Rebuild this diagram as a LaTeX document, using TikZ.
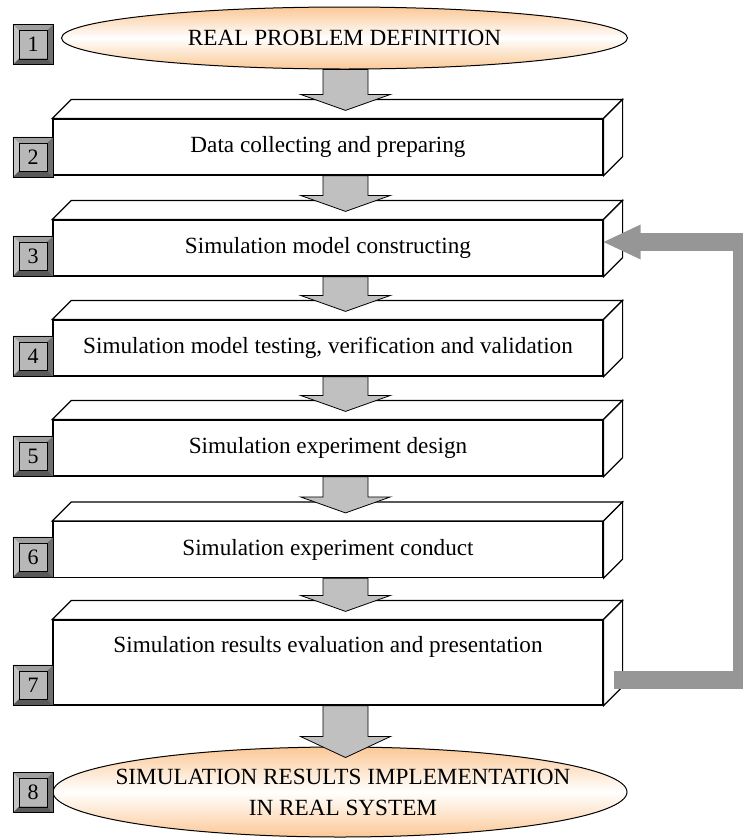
\documentclass[tikz,border=0pt]{standalone}
\usepackage{fontspec}
\setmainfont{Liberation Serif}
\usetikzlibrary{shapes.geometric,calc}
\definecolor{ellor}{HTML}{FBC896}
\definecolor{arrgray}{HTML}{C0C0C0}
\definecolor{fbgray}{HTML}{969696}
\definecolor{nbface}{HTML}{B8B8B8}
\definecolor{nbtop}{HTML}{A0A0A0}
\definecolor{nbleft}{HTML}{C4C4C4}
\definecolor{nbright}{HTML}{6E6E6E}
\definecolor{nbbot}{HTML}{5A5A5A}
\tikzset{
  txt/.style={font=\fontsize{23.2}{31}\selectfont},
  oval/.style={ellipse, draw, line width=1pt, top color=ellor, bottom color=ellor, middle color=white, inner sep=0pt},
  boxf/.style={rectangle, draw, line width=1.2pt, fill=white, minimum width=550pt, minimum height=56pt, inner sep=0pt, txt},
  faceline/.style={draw, line width=1.2pt, fill=white, line join=miter},
  numbox/.style={rectangle, fill=nbface, minimum size=40pt, inner sep=0pt, font=\fontsize{22}{22}\selectfont},
  blockarr/.style={draw, fill=arrgray, line width=0.8pt, line join=miter},
  plain/.style={inner sep=0pt, align=center, txt}
}
\newcommand\cubefaces[1]{%
  \filldraw[faceline] (#1.north west) -- ++(19,-19) -- ($(#1.north east)+(19,-19)$) -- (#1.north east) -- cycle;
  \filldraw[faceline] (#1.north east) -- ++(19,-19) -- ($(#1.south east)+(19,-19)$) -- (#1.south east) -- cycle;
}
\newcommand\nbox[4]{%
  \node[numbox] (#1) at (#2,#3) {#4};
  \fill[nbtop] (#1.north west) -- (#1.north east) -- ($(#1.north east)+(-6,6)$) -- ($(#1.north west)+(6,6)$) -- cycle;
  \fill[nbleft] (#1.north west) -- ($(#1.north west)+(6,6)$) -- ($(#1.south west)+(6,-6)$) -- (#1.south west) -- cycle;
  \fill[nbright] (#1.north east) -- ($(#1.north east)+(-6,6)$) -- ($(#1.south east)+(-6,-6)$) -- (#1.south east) -- cycle;
  \fill[nbbot] (#1.south west) -- ($(#1.south west)+(6,-6)$) -- ($(#1.south east)+(-6,-6)$) -- (#1.south east) -- cycle;
  \draw[line width=0.6pt] (#1.north west) rectangle (#1.south east);
  \draw[line width=0.4pt] ($(#1.north west)+(6,6)$) rectangle ($(#1.south east)+(-6,-6)$);
}
\newcommand\darr[4]{%
  \coordinate (s) at (ax |- #1.south);
  \coordinate (h) at ($(ax |- #2.north)+(0,#3)$);
  \coordinate (p) at ($(ax |- #2.north)+(0,#4)$);
  \filldraw[blockarr] ($(s)+(-22.5,0)$) -- ($(h)+(-22.5,0)$) -- ($(h)+(-45,0)$) -- (p) -- ($(h)+(45,0)$) -- ($(h)+(22.5,0)$) -- ($(s)+(22.5,0)$) -- cycle;
}
\begin{document}
\begin{tikzpicture}[x=1pt,y=-1pt]
\useasboundingbox (0,0) rectangle (743,839);
\clip (0,0) rectangle (743,839);
\coordinate (ax) at (345.5,0);
% ellipses
\node[oval, minimum width=566pt, minimum height=62pt] (e1) at (344.5,38) {};
\node[plain] (t1) at (e1.center) {REAL PROBLEM DEFINITION};
\node[oval, minimum width=574pt, minimum height=90pt] (e8) at (340,792) {};
\node[plain] (t8) at (343,792) {SIMULATION RESULTS IMPLEMENTATION\\IN REAL SYSTEM};
% boxes
\node[boxf] (b2) at (328,147) {Data collecting and preparing};
\cubefaces{b2}
\node[boxf] (b3) at (328,248) {Simulation model constructing};
\cubefaces{b3}
\node[boxf] (b4) at (328,348) {Simulation model testing, verification and validation};
\cubefaces{b4}
\node[boxf] (b5) at (328,448) {Simulation experiment design};
\cubefaces{b5}
\node[boxf] (b6) at (328,549.5) {Simulation experiment conduct};
\cubefaces{b6}
\node[boxf, minimum height=85pt] (b7) at (328,662.5) {};
\cubefaces{b7}
\node[plain] (t7) at (328,647) {Simulation results evaluation and presentation};
% number boxes
\nbox{n1}{33}{44.5}{1}
\nbox{n2}{33}{157}{2}
\nbox{n3}{33}{256}{3}
\nbox{n4}{33}{356}{4}
\nbox{n5}{33}{456}{5}
\nbox{n6}{33}{557}{6}
\nbox{n7}{33}{685}{7}
\nbox{n8}{33}{792.5}{8}
% down arrows
\darr{e1}{b2}{-24}{-8}
\darr{b2}{b3}{-24}{-8}
\darr{b3}{b4}{-24}{-8}
\darr{b4}{b5}{-24}{-8}
\darr{b5}{b6}{-24}{-8}
\darr{b6}{b7}{-24}{-8}
\darr{b7}{e8}{-10}{11}
% feedback arrow
\coordinate (fs) at ($(b7.south east)+(10,-26)$);
\coordinate (ft) at ($(b3.east)+(0,-6)$);
\coordinate (fx) at (742,0);
\draw[fbgray, line width=18pt, line join=miter] (fs) -- (fx |- fs) -- (fx |- ft) -- ($(ft)+(36,0)$);
\fill[fbgray] (ft) -- ($(ft)+(37,-17.5)$) -- ($(ft)+(37,17.5)$) -- cycle;
\end{tikzpicture}
\end{document}
